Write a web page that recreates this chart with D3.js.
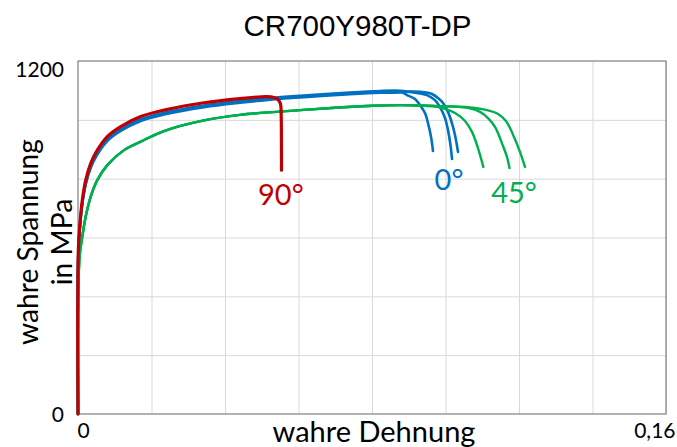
<!DOCTYPE html>
<html>
<head>
<meta charset="utf-8">
<script src="https://cdn.jsdelivr.net/npm/d3@7"></script>
<style>
  html, body { margin: 0; padding: 0; background: #ffffff; }
  svg { display: block; }
</style>
</head>
<body>
<svg id="chart" width="677" height="447"></svg>
<script>
// Flow curves of CR700Y980T-DP, true stress over true strain, per rolling direction

const chartTitle = "CR700Y980T-DP";
const xTitle = "wahre Dehnung";
const yTitleLines = ["wahre Spannung", "in MPa"];

const xTicks = [0, 0.16];
const xTickLabels = ["0", "0,16"];
const yTicks = [0, 1200];
const yTickLabels = ["0", "1200"];

// 90° specimen
const strain90 = [0, 0.0001, 0.00054, 0.00117, 0.0021, 0.00346, 0.00525, 0.00797, 0.01162, 0.01706, 0.0234, 0.03429, 0.04408, 0.05135, 0.05333, 0.05442, 0.0551, 0.05529, 0.05535, 0.05537];
const stress90 = [0, 560, 648, 727, 795, 852, 897, 943, 977, 1011, 1033, 1058, 1072, 1079, 1076, 1069, 1054, 1016, 931, 829];

// 0° specimens (common hardening branch, then three necking tails)
const strain0 = [0, 0.0001, 0.00054, 0.00117, 0.0021, 0.00346, 0.00525, 0.00797, 0.01162, 0.01706, 0.0234, 0.03429, 0.04408, 0.05306, 0.06041, 0.07401, 0.08218, 0.08762];
const stress0 = [0, 550, 640, 717, 783, 840, 885, 931, 965, 999, 1021, 1046, 1061, 1072, 1079, 1090, 1095, 1096];
const strain0a = [0.08952, 0.0917, 0.09306, 0.09442, 0.09524, 0.09606, 0.0966];
const stress0a = [1084, 1071, 1050, 1023, 989, 942, 894];
const strain0b = [0.09034, 0.09306, 0.09497, 0.09714, 0.0985, 0.09987, 0.10068, 0.10136, 0.10177];
const stress0b = [1095, 1090, 1084, 1067, 1043, 1006, 965, 914, 867];
const strain0c = [0.09034, 0.09442, 0.09633, 0.09796, 0.09932, 0.10068, 0.10204, 0.10286, 0.1034];
const stress0c = [1096, 1094, 1088, 1074, 1057, 1027, 976, 931, 891];

// 45° specimens
const strain45 = [0, 0.0001, 0.00045, 0.00117, 0.0021, 0.00346, 0.00525, 0.00797, 0.01252, 0.01706, 0.0234, 0.03429, 0.04408, 0.06041, 0.07129, 0.08027, 0.08762, 0.0966];
const stress45 = [0, 420, 540, 603, 671, 739, 795, 846, 897, 926, 962, 998, 1017, 1033, 1042, 1048, 1050, 1047];
const strain45a = [0.09987, 0.10259, 0.10531, 0.10721, 0.10884, 0.11029];
const stress45a = [1037, 1023, 996, 959, 904, 840];
const strain45b = [0.10259, 0.10667, 0.10939, 0.11156, 0.11347, 0.11565, 0.11673, 0.11741];
const stress45b = [1045, 1039, 1027, 1006, 976, 911, 874, 836];
const strain45c = [0.10667, 0.11129, 0.11429, 0.11646, 0.11864, 0.12027, 0.12163];
const stress45c = [1042, 1033, 1020, 996, 942, 891, 840];

// direction labels: text, anchor strain, anchor stress
const labelTexts = ["90°", "0°", "45°"];
const labelStrain = [0.0552, 0.10095, 0.11864];
const labelStress = [710, 761, 717];

const colors = { "90°": "#C00000", "0°": "#0070C0", "45°": "#00B050" };

const zip = (xs, ys) => xs.map((x, i) => [x, ys[i]]);
const series = [
  { dir: "0°",  width: 2.6, pts: zip(strain0, stress0).concat(zip(strain0a, stress0a)) },
  { dir: "0°",  width: 2.6, pts: zip(strain0, stress0.map(v => v ? v + 3 : v)).concat(zip(strain0b, stress0b)) },
  { dir: "0°",  width: 2.6, pts: zip(strain0, stress0.map(v => v ? v - 3 : v)).concat(zip(strain0c, stress0c)) },
  { dir: "45°", width: 2.4, pts: zip(strain45, stress45).concat(zip(strain45a, stress45a)) },
  { dir: "45°", width: 2.4, pts: zip(strain45, stress45).concat(zip(strain45b, stress45b)) },
  { dir: "45°", width: 2.4, pts: zip(strain45, stress45).concat(zip(strain45c, stress45c)) },
  { dir: "90°", width: 3.2, pts: zip(strain90, stress90) }
];

const svg = d3.select("#chart");
const plot = { left: 78, right: 666, top: 61, bottom: 414 };

const x = d3.scaleLinear().domain([0, 0.16]).range([plot.left, plot.right]);
const y = d3.scaleLinear().domain([0, 1200]).range([plot.bottom, plot.top]);

const calibriLike = "Lato, 'Open Sans', sans-serif";

// grid
svg.append("g")
  .attr("transform", `translate(0,${plot.bottom})`)
  .call(d3.axisBottom(x).tickValues(d3.range(0.02, 0.16, 0.02)).tickSize(-(plot.bottom - plot.top)).tickFormat(""))
  .call(g => g.select(".domain").remove())
  .call(g => g.selectAll("line").attr("stroke", "#d9d9d9").attr("stroke-width", 1));
svg.append("g")
  .attr("transform", `translate(${plot.left},0)`)
  .call(d3.axisLeft(y).tickValues(d3.range(200, 1200, 200)).tickSize(-(plot.right - plot.left)).tickFormat(""))
  .call(g => g.select(".domain").remove())
  .call(g => g.selectAll("line").attr("stroke", "#d9d9d9").attr("stroke-width", 1));

// plot frame
svg.append("rect")
  .attr("x", plot.left).attr("y", plot.top)
  .attr("width", plot.right - plot.left).attr("height", plot.bottom - plot.top)
  .attr("fill", "none").attr("stroke", "#808080").attr("stroke-width", 1.2);

// curves
const line = d3.line()
  .x(d => x(d[0])).y(d => y(d[1]))
  .curve(d3.curveCatmullRom.alpha(0.5));

svg.append("g").selectAll("path")
  .data(series)
  .join("path")
  .attr("d", d => line(d.pts))
  .attr("fill", "none")
  .attr("stroke", d => colors[d.dir])
  .attr("stroke-width", d => d.width)
  .attr("stroke-linejoin", "round")
  .attr("stroke-linecap", "round");

// axes tick labels
const xAxis = svg.append("g")
  .attr("transform", `translate(0,${plot.bottom})`)
  .call(d3.axisBottom(x).tickValues(xTicks).tickSize(0).tickPadding(0)
    .tickFormat((d, i) => xTickLabels[i]));
xAxis.select(".domain").remove();
xAxis.selectAll("text")
  .attr("font-family", calibriLike).attr("font-size", 21).attr("fill", "#000")
  .attr("dy", null).attr("y", 24)
  .attr("text-anchor", (d, i) => i === 0 ? "start" : "end")
  .attr("dx", (d, i) => i === 0 ? -1 : 9);

const yAxis = svg.append("g")
  .attr("transform", `translate(${plot.left},0)`)
  .call(d3.axisLeft(y).tickValues(yTicks).tickSize(0).tickPadding(14)
    .tickFormat((d, i) => yTickLabels[i]));
yAxis.select(".domain").remove();
yAxis.selectAll("text")
  .attr("font-family", calibriLike).attr("font-size", 21).attr("fill", "#000")
  .attr("dy", (d) => d === 0 ? "0.35em" : "0.75em");

// direction labels
svg.append("g").selectAll("text")
  .data(labelTexts)
  .join("text")
  .attr("x", (d, i) => x(labelStrain[i]))
  .attr("y", (d, i) => y(labelStress[i]))
  .attr("text-anchor", "middle")
  .attr("font-family", calibriLike).attr("font-size", 29)
  .attr("fill", d => colors[d])
  .text(d => d);

// titles
svg.append("text")
  .attr("x", 357.5).attr("y", 36)
  .attr("text-anchor", "middle")
  .attr("font-family", "'Liberation Sans', Arial, sans-serif").attr("font-size", 29.5)
  .attr("fill", "#000")
  .text(chartTitle);

svg.append("text")
  .attr("x", 374).attr("y", 442)
  .attr("text-anchor", "middle")
  .attr("font-family", calibriLike).attr("font-size", 29)
  .attr("fill", "#000")
  .text(xTitle);

const yTitle = svg.append("text")
  .attr("transform", "translate(38,242) rotate(-90)")
  .attr("text-anchor", "middle")
  .attr("font-family", calibriLike).attr("font-size", 28.2)
  .attr("fill", "#000");
yTitle.selectAll("tspan")
  .data(yTitleLines)
  .join("tspan")
  .attr("x", 0)
  .attr("dy", (d, i) => i === 0 ? 0 : 34)
  .text(d => d);
</script>
</body>
</html>
